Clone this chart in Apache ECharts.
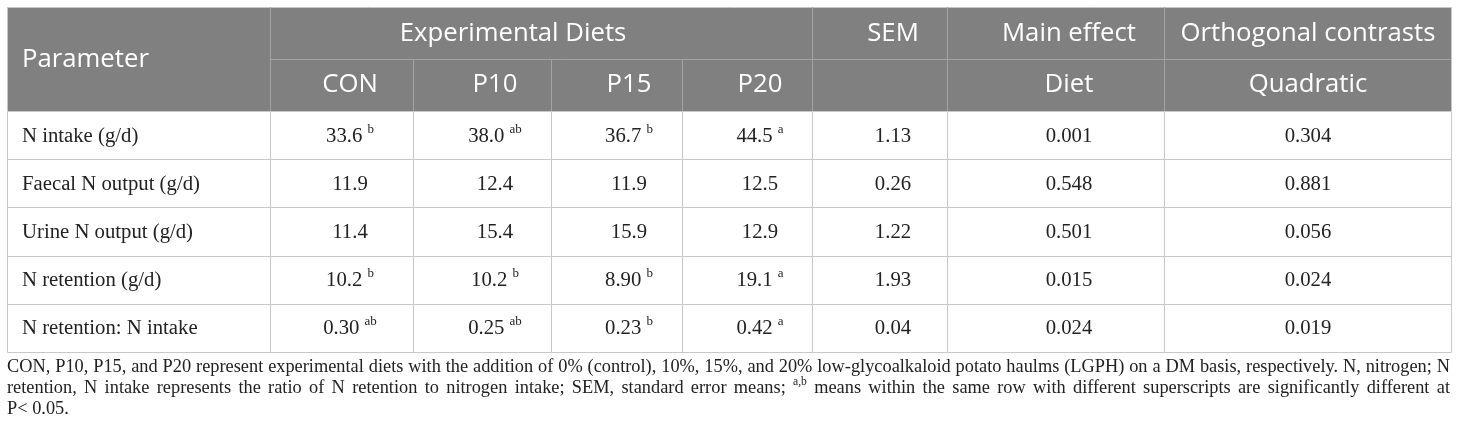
<!DOCTYPE html>
<html><head><meta charset="utf-8">
<script src="https://cdn.jsdelivr.net/npm/echarts@6/dist/echarts.min.js"></script>
<style>html,body{margin:0;padding:0;background:#fff}#c{width:1460px;height:435px}</style>
</head><body><div id="c"></div>
<script>
// ---------- data ----------
const parameters = ['N intake (g/d)', 'Faecal N output (g/d)', 'Urine N output (g/d)', 'N retention (g/d)', 'N retention: N intake'];
const conValues = ['33.6', '11.9', '11.4', '10.2', '0.30'];
const conSup    = ['b', '', '', 'b', 'ab'];
const p10Values = ['38.0', '12.4', '15.4', '10.2', '0.25'];
const p10Sup    = ['ab', '', '', 'b', 'ab'];
const p15Values = ['36.7', '11.9', '15.9', '8.90', '0.23'];
const p15Sup    = ['b', '', '', 'b', 'b'];
const p20Values = ['44.5', '12.5', '12.9', '19.1', '0.42'];
const p20Sup    = ['a', '', '', 'a', 'a'];
const semValues = ['1.13', '0.26', '1.22', '1.93', '0.04'];
const dietP     = ['0.001', '0.548', '0.501', '0.015', '0.024'];
const quadraticP = ['0.304', '0.881', '0.056', '0.024', '0.019'];

const headerParameter = 'Parameter';
const headerGroup = 'Experimental Diets';
const headerSEM = 'SEM';
const headerMain = 'Main effect';
const headerOrtho = 'Orthogonal contrasts';
const headerSub = ['CON', 'P10', 'P15', 'P20', '', 'Diet', 'Quadratic'];

const footLine1 = 'CON, P10, P15, and P20 represent experimental diets with the addition of 0% (control), 10%, 15%, and 20% low-glycoalkaloid potato haulms (LGPH) on a DM basis, respectively. N, nitrogen; N';
const footLine2 = 'retention, N intake represents the ratio of N retention to nitrogen intake; SEM, standard error means; ^a,b means within the same row with different superscripts are significantly different at';
const footLine3 = 'P< 0.05.';

// ---------- layout ----------
const L = 7, R = 1452, T = 7, HM = 59, HB = 111, B = 352;
const colEdges = [0, 263, 406, 544, 675, 805, 940, 1157, 1445];      // relative to L
const textPos  = [15, 343, 488, 622, 753, 886, 1062, 1301];          // relative to L
const SERIF = "'Liberation Serif','Times New Roman',serif";
const SANS = "'Open Sans','Noto Sans',sans-serif";

const ctx = document.createElement('canvas').getContext('2d');
function tw(text, size, fam) { ctx.font = size + 'px ' + fam; return ctx.measureText(text).width; }
function fitSize(text, target, fam) { return target / tw(text, 100, fam) * 100; }

const headFs = fitSize(headerOrtho, 255, SANS);
const bodyFs = fitSize('Faecal N output (g/d)', 178, SERIF);
const footFs = 19;
const footScale = 1434 / tw(footLine1.replace(/ /g, ''), footFs, SERIF) * (tw(footLine1.replace(/ /g, ''), footFs, SERIF) / tw(footLine1, footFs, SERIF));

const columns = [
  {v: parameters, s: null},
  {v: conValues, s: conSup},
  {v: p10Values, s: p10Sup},
  {v: p15Values, s: p15Sup},
  {v: p20Values, s: p20Sup},
  {v: semValues, s: null},
  {v: dietP, s: null},
  {v: quadraticP, s: null}
];

const cellData = [];
for (let r = 0; r < parameters.length; r++) for (let c = 0; c < columns.length; c++) cellData.push([c, r]);

const bodyRich = {
  n: {fontFamily: SERIF, fontSize: bodyFs, fill: '#222'},
  s: {fontFamily: SERIF, fontSize: Math.round(bodyFs * 0.64), fill: '#222', padding: [0, 0, 14, 0]}
};

// ---------- header graphics ----------
const HEADER_BG = '#808080', HEADER_LINE = '#a3a3a3', BODY_LINE = '#c8c8c8';
const g = [];
g.push({type: 'rect', shape: {x: L, y: T, width: R - L, height: HB - T}, style: {fill: HEADER_BG}, z: 1});
function hline(x1, x2, y, color) { g.push({type: 'line', shape: {x1: x1, y1: y + 0.5, x2: x2, y2: y + 0.5}, style: {stroke: color, lineWidth: 1}, z: 2}); }
function vline(x, y1, y2, color) { g.push({type: 'line', shape: {x1: x + 0.5, y1: y1, x2: x + 0.5, y2: y2}, style: {stroke: color, lineWidth: 1}, z: 2}); }
hline(L, R, T, BODY_LINE);
hline(L + colEdges[1], R, HM, HEADER_LINE);
vline(L + colEdges[1], T, HB, HEADER_LINE);
vline(L + colEdges[2], HM, HB, HEADER_LINE);
vline(L + colEdges[3], HM, HB, HEADER_LINE);
vline(L + colEdges[4], HM, HB, HEADER_LINE);
vline(L + colEdges[5], T, HB, HEADER_LINE);
vline(L + colEdges[6], T, HB, HEADER_LINE);
vline(L + colEdges[7], T, HB, HEADER_LINE);
vline(L, T, HB, BODY_LINE);
vline(R - 1, T, HB, BODY_LINE);

function htext(text, x, y, align) {
  g.push({type: 'text', x: x, y: y, z: 3,
    style: {text: text, fill: '#fff', fontFamily: SANS, fontSize: headFs, align: align || 'center', verticalAlign: 'middle'}});
}
const row1Y = 34, row2Y = 85;
htext(headerParameter, L + 15, 60, 'left');
htext(headerGroup, 513, row1Y);
htext(headerSEM, L + textPos[5], row1Y);
htext(headerMain, L + textPos[6], row1Y);
htext(headerOrtho, L + textPos[7], row1Y);
for (let i = 0; i < headerSub.length; i++) if (headerSub[i]) htext(headerSub[i], L + textPos[i + 1], row2Y);

// ---------- footnote (condensed, justified) ----------
function justify(line, y, width, doJustify) {
  const words = line.split(' ');
  const supFs = Math.round(footFs * 0.62);
  const ws = words.map(w => (w[0] === '^' ? tw(w.slice(1), supFs, SERIF) : tw(w, footFs, SERIF)) * footScale);
  const total = ws.reduce((a, b) => a + b, 0);
  const space = doJustify ? (width - total) / (words.length - 1) : tw(' ', footFs, SERIF) * footScale;
  let x = L;
  words.forEach((w, i) => {
    const sup = w[0] === '^';
    g.push({type: 'text', x: x, y: sup ? y - 6 : y, z: 3, scaleX: footScale,
      style: {text: sup ? w.slice(1) : w, fill: '#222', fontFamily: SERIF, fontSize: sup ? supFs : footFs, align: 'left', verticalAlign: 'middle'}});
    x += ws[i] + space;
  });
}
justify(footLine1, 367, R - L - 2, true);
justify(footLine2, 388, R - L - 2, true);
justify(footLine3, 409, 0, false);

// ---------- chart ----------
const chart = echarts.init(document.getElementById('c'), null, {renderer: 'canvas'});
chart.setOption({
  animation: false,
  grid: {left: L, top: HB, width: R - L, height: B - HB, containLabel: false},
  xAxis: {type: 'value', min: 0, max: colEdges[colEdges.length - 1], show: false},
  yAxis: {type: 'category', data: parameters, inverse: true, show: false},
  graphic: {elements: g},
  series: [{
    type: 'custom',
    data: cellData,
    clip: false,
    renderItem: function (params, api) {
      const c = api.value(0), r = api.value(1);
      const yc = api.coord([0, r])[1];
      const h = api.size([0, 1])[1];
      const x0 = Math.round(api.coord([colEdges[c], r])[0]) + 0.5;
      const x1 = Math.round(api.coord([colEdges[c + 1], r])[0]) - 0.5;
      const y0 = Math.round(yc - h / 2) + 0.5;
      const y1 = Math.round(yc + h / 2) + 0.5;
      const col = columns[c];
      const v = col.v[r];
      const s = col.s ? col.s[r] : '';
      const txt = '{n|' + v + '}' + (s ? ' {s|' + s + '}' : '');
      const tx = api.coord([textPos[c], r])[0];
      return {
        type: 'group',
        children: [
          {type: 'rect', shape: {x: x0, y: y0, width: x1 - x0 + (c === columns.length - 1 ? 0 : 1), height: y1 - y0},
            style: {fill: '#fff', stroke: BODY_LINE, lineWidth: 1}},
          {type: 'text', x: tx, y: yc + 1,
            style: {text: txt, rich: bodyRich, fontFamily: SERIF, fontSize: bodyFs, fill: '#222',
              align: c === 0 ? 'left' : 'center', verticalAlign: 'middle'}}
        ]
      };
    }
  }]
});
</script></body></html>
